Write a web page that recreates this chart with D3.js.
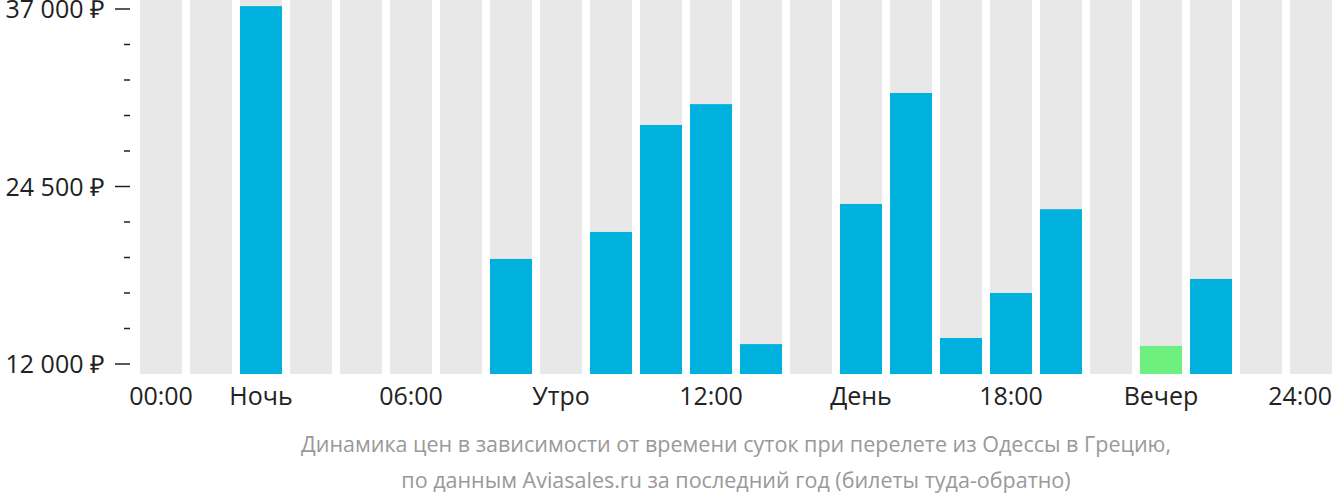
<!DOCTYPE html>
<html><head><meta charset="utf-8">
<script src="https://cdn.jsdelivr.net/npm/d3@7"></script>
<style>body{margin:0;background:#fff}text{font-family:"Open Sans",sans-serif}</style>
</head><body><svg id="canvas" width="1332" height="502"></svg>
<script>
// hourly prices, null = no data
var hours = d3.range(24)
var prices = [null, null, 37200, null, null, null, null, 19400, null, 21300, 28830, 30300,
  13400, null, 23270, 31085, 13830, 17000, 22900, null, 13270, 17990, null, null]
var cheapest = 20
var xLabels = [[0, '00:00'], [2, 'Ночь'], [5, '06:00'], [8, 'Утро'], [11, '12:00'],
  [14, 'День'], [17, '18:00'], [20, 'Вечер'], [24, '24:00']]
var yTicks = [12000, 24500, 37000]
var caption = ['Динамика цен в зависимости от времени суток при перелете из Одессы в Грецию,',
  'по данным Aviasales.ru за последний год (билеты туда-обратно)']

var svg = d3.select('#canvas')
var x = d3.scaleLinear().domain([0, 24]).range([140, 1340])
var bw = 42
var y = d3.scaleLinear().domain([12000, 37000]).range([364, 9])
var base = 374

svg.selectAll('.bg').data(hours).enter().append('rect')
  .attr('x', d => x(d)).attr('width', bw).attr('y', 0).attr('height', base).attr('fill', '#e8e8e8')

svg.selectAll('.bar').data(hours.filter(h => prices[h] != null)).enter().append('rect')
  .attr('x', d => x(d)).attr('width', bw)
  .attr('y', d => y(prices[d])).attr('height', d => base - y(prices[d]))
  .attr('fill', d => d === cheapest ? '#6ef07f' : '#00b0dd')

// y axis ticks
svg.selectAll('.minor').data(d3.range(12000, 37001, 2500)).enter().append('line')
  .attr('x1', d => yTicks.includes(d) ? 115 : 124).attr('x2', 130)
  .attr('y1', d => y(d)).attr('y2', d => y(d)).attr('stroke', '#222').attr('stroke-width', 1.5)
svg.selectAll('.ylab').data(yTicks).enter().append('text')
  .attr('x', 105).attr('y', d => y(d) + 9).attr('text-anchor', 'end')
  .attr('font-size', 25).attr('fill', '#222')
  .text(d => d3.format(',')(d).replace(',', ' ') + ' ₽')

svg.selectAll('.xlab').data(xLabels).enter().append('text')
  .attr('x', d => d[0] === 24 ? 1332 : x(d[0]) + bw / 2).attr('y', 405)
  .attr('text-anchor', d => d[0] === 24 ? 'end' : 'middle')
  .attr('font-size', 25).attr('fill', '#222').text(d => d[1])

svg.selectAll('.cap').data(caption).enter().append('text')
  .attr('x', 736).attr('y', (d, i) => 452 + i * 36).attr('text-anchor', 'middle')
  .attr('font-size', 21.5).attr('fill', '#999').text(d => d)
</script></body></html>
